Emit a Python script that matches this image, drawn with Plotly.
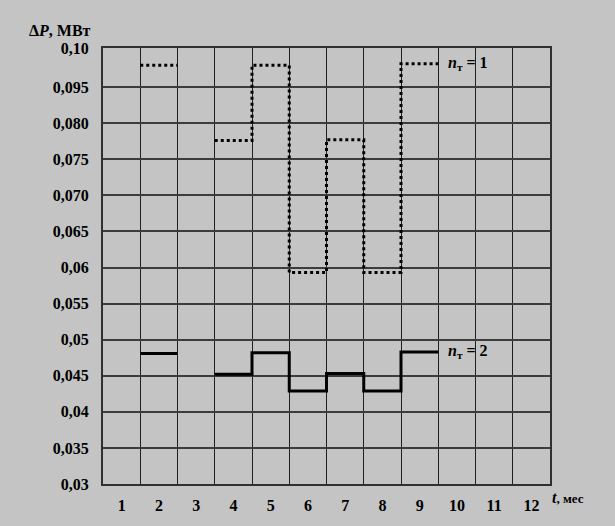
import numpy as np
import plotly.graph_objects as go

# ---- data ----
months = list(range(1, 13))
month_labels = [str(m) for m in months]

# n_t = 1 (dotted), None = no value for that month
p_n1 = [None, 0.0978, None, 0.0776, 0.0978, 0.0593, 0.0777, 0.0593, 0.0980, None, None, None]
# n_t = 2 (solid)
p_n2 = [None, 0.0481, None, 0.0452, 0.0482, 0.0429, 0.0453, 0.0429, 0.0483, None, None, None]

# y tick labels as printed on the chart (non-uniform labelling)
y_tick_values = [0.03, 0.035, 0.04, 0.045, 0.05, 0.055, 0.06, 0.065, 0.07, 0.075, 0.08, 0.095, 0.10]
y_tick_labels = ["0,03", "0,035", "0,04", "0,045", "0,05", "0,055", "0,06", "0,065",
                 "0,070", "0,075", "0,080", "0,095", "0,10"]
# position of each printed label on the axis (grid rows)
y_tick_pos = [0, 1, 2, 3, 4, 5, 6, 7, 8, 9, 10, 11, 12.083]


def to_axis(v):
    return float(np.interp(v, y_tick_values, y_tick_pos))


def step_xy(vals):
    xs, ys = [], []
    prev = None
    for i, v in enumerate(vals):
        m = months[i]
        if v is None:
            if prev is not None:
                xs.append(None); ys.append(None)
            prev = None
            continue
        xs += [m - 1, m]
        ys += [to_axis(v), to_axis(v)]
        prev = v
    return xs, ys


x1, y1 = step_xy(p_n1)
x2, y2 = step_xy(p_n2)

FONT = "Times New Roman, Liberation Serif, serif"
BG = "#c4c4c4"

fig = go.Figure()
fig.add_trace(go.Scatter(x=x1, y=y1, mode="lines",
                         line=dict(color="black", width=3, dash="dot"),
                         connectgaps=False, hoverinfo="skip", showlegend=False))
fig.add_trace(go.Scatter(x=x2, y=y2, mode="lines",
                         line=dict(color="black", width=3),
                         connectgaps=False, hoverinfo="skip", showlegend=False))

fig.update_layout(
    width=615, height=526,
    margin=dict(l=103, r=65, t=48, b=42),
    paper_bgcolor=BG, plot_bgcolor=BG,
    font=dict(family=FONT, size=14, color="black"),
    xaxis=dict(
        range=[0, 12], tickmode="array",
        tickvals=[m - 0.5 for m in months], ticktext=[f"<b>{t}</b>" for t in month_labels],
        showgrid=False, zeroline=False, ticks="", ticklabelstandoff=6,
        showline=True, linecolor="#303030", linewidth=2, mirror=True,
        minor=dict(tickvals=list(range(0, 13)), showgrid=True,
                   gridcolor="#202020", gridwidth=1.4, ticks=""),
        tickfont=dict(family=FONT, size=16),
    ),
    yaxis=dict(
        range=[0, 12.083], tickmode="array",
        tickvals=y_tick_pos, ticktext=[f"<b>{t}</b>" for t in y_tick_labels],
        showgrid=True, gridcolor="#3c3c3c", gridwidth=2, zeroline=False,
        ticks="", ticklabelstandoff=9,
        showline=True, linecolor="#303030", linewidth=2, mirror=True,
        tickfont=dict(family=FONT, size=16),
    ),
)

fig.add_annotation(xref="paper", yref="paper", x=-0.022, y=1.0, yshift=18,
                   xanchor="right", yanchor="middle", showarrow=False,
                   text="<b>Δ<i>P</i>, МВт</b>", font=dict(family=FONT, size=16))
fig.add_annotation(xref="paper", yref="paper", x=1.0, y=0, yshift=-13, xshift=0,
                   xanchor="left", yanchor="middle", showarrow=False,
                   text="<b><i>t</i></b><b><span style='font-size:13px'>, мес</span></b>",
                   font=dict(family=FONT, size=16))
fig.add_annotation(x=9.2, y=to_axis(p_n1[8]), xanchor="left", yanchor="middle",
                   showarrow=False, text="<b><i>n</i><sub>т</sub> = 1</b>",
                   font=dict(family=FONT, size=16))
fig.add_annotation(x=9.2, y=to_axis(p_n2[8]), xanchor="left", yanchor="middle",
                   showarrow=False, text="<b><i>n</i><sub>т</sub> = 2</b>",
                   font=dict(family=FONT, size=16))

fig.write_html("out.html", config={"displayModeBar": False},
               post_script="document.body.style.margin='0';document.body.style.padding='0';")
